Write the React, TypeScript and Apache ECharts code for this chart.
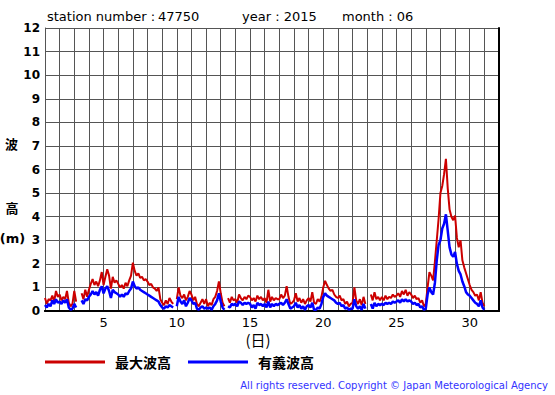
import React, { useEffect, useRef } from "react";
import * as echarts from "echarts";

// 3-hourly samples, day 1.0 .. day 31.0 (null = missing)
const maxWave: (number | null)[] = [
  0.55, 0.3, 0.5, 0.45, 0.65, 0.4, 0.85, 0.6,
  0.7, 0.45, 0.6, 0.5, 0.85, 0.35, 0.2, 0.3,
  0.85, 0.4, null, null, 0.75, 0.5, 0.9, 0.6,
  0.9, 1.15, 1.35, 1.1, 1.25, 1.05, 1.3, 1.65,
  1.1, 1.45, 1.77, 1.5, 0.95, 1.45, 1.2, 1.3,
  1.15, 1.0, 1.1, 0.95, 1.2, 1.05, 1.3, 1.5,
  2.05, 1.7, 1.5, 1.6, 1.4, 1.45, 1.3, 1.35,
  1.25, 1.1, 1.15, 1.0, 0.95, 0.85, 1.0, 0.5,
  0.35, 0.25, 0.45, 0.3, 0.55, 0.4, 0.3, null,
  0.5, 1.0, 0.65, 0.55, 0.7, 0.45, 0.6, 0.85,
  0.7, 0.45, 0.6, 0.3, 0.2, 0.35, 0.5, 0.3,
  0.5, 0.2, 0.35, 0.25, 0.5, 0.6, 0.85, 1.25,
  0.75, 0.35, 0.2, null, 0.55, 0.35, 0.6, 0.45,
  0.5, 0.35, 0.7, 0.55, 0.45, 0.6, 0.5, 0.65,
  0.6, 0.45, 0.55, 0.4, 0.65, 0.5, 0.6, 0.45,
  0.55, 0.35, 0.9, 0.4, 0.6, 0.45, 0.55, 0.5,
  0.5, 0.7, 0.55, 0.65, 1.05, 0.6, 0.3, 0.35,
  0.45, 0.75, 0.4, 0.55, 0.35, 0.5, 0.3, 0.45,
  0.55, 0.4, 0.8, 0.35, 0.3, 0.5, 0.4, 0.6,
  1.0, 1.28, 1.1, 0.95, 0.85, 0.9, 0.7, 0.6,
  0.55, 0.65, 0.45, 0.5, 0.3, 0.4, 0.2, 0.3,
  0.35, 1.0, 0.45, 0.3, 0.5, 0.25, 0.6, 0.3,
  null, null, 0.7, 0.45, 0.8, 0.5, 0.6, 0.45,
  0.6, 0.45, 0.65, 0.5, 0.6, 0.55, 0.7, 0.6,
  0.65, 0.75, 0.6, 0.85, 0.7, 0.9, 0.65, 0.8,
  0.7, 0.55, 0.65, 0.5, 0.55, 0.35, 0.45, 0.2,
  0.3, 1.0, 1.65, 1.5, 1.3, 2.1, 3.0, 3.9,
  5.0, 5.3, 5.8, 6.45, 5.2, 4.3, 4.0, 3.85,
  4.05, 3.1, 2.7, 3.0, 2.15, 1.85, 1.6, 1.35,
  1.1, 0.9, 0.8, 0.65, 0.7, 0.45, 0.8, 0.35,
  0.2,
];

const sigWave: (number | null)[] = [
  0.25, 0.15, 0.3, 0.2, 0.45, 0.3, 0.5, 0.35,
  0.4, 0.3, 0.45, 0.35, 0.5, 0.15, 0.05, 0.1,
  0.3, 0.15, null, null, 0.45, 0.3, 0.5, 0.45,
  0.6, 0.7, 0.85, 0.7, 0.8, 0.65, 0.9, 1.05,
  0.75, 0.95, 1.05, 0.85, 0.55, 0.9, 0.8, 0.75,
  0.7, 0.6, 0.7, 0.6, 0.75, 0.7, 0.85, 0.95,
  1.25, 1.05, 0.95, 1.0, 0.9, 0.85, 0.8, 0.75,
  0.7, 0.65, 0.6, 0.55, 0.5, 0.45, 0.4, 0.25,
  0.15, 0.1, 0.2, 0.15, 0.25, 0.2, 0.15, null,
  0.2, 0.6, 0.4, 0.3, 0.45, 0.2, 0.35, 0.55,
  0.45, 0.3, 0.35, 0.1, 0.05, 0.15, 0.2, 0.1,
  0.15, 0.1, 0.15, 0.05, 0.2, 0.3, 0.45, 0.75,
  0.4, 0.15, 0.05, null, 0.2, 0.15, 0.3, 0.25,
  0.3, 0.2, 0.4, 0.35, 0.25, 0.35, 0.3, 0.35,
  0.3, 0.15, 0.25, 0.1, 0.35, 0.25, 0.3, 0.2,
  0.3, 0.15, 0.4, 0.15, 0.3, 0.2, 0.3, 0.25,
  0.3, 0.35, 0.25, 0.35, 0.5, 0.3, 0.1, 0.15,
  0.2, 0.35, 0.15, 0.25, 0.1, 0.2, 0.05, 0.2,
  0.25, 0.15, 0.35, 0.05, 0.05, 0.15, 0.1, 0.3,
  0.6, 0.75, 0.65, 0.6, 0.55, 0.5, 0.45, 0.35,
  0.3, 0.35, 0.2, 0.25, 0.1, 0.15, 0.05, 0.1,
  0.1, 0.5, 0.2, 0.1, 0.2, 0.05, 0.3, 0.1,
  null, null, 0.3, 0.1, 0.35, 0.2, 0.3, 0.25,
  0.3, 0.25, 0.35, 0.3, 0.35, 0.3, 0.4, 0.35,
  0.4, 0.45, 0.35, 0.5, 0.4, 0.5, 0.4, 0.45,
  0.4, 0.3, 0.35, 0.25, 0.3, 0.15, 0.2, 0.05,
  0.1, 0.7, 1.0, 0.8, 0.7, 1.2, 2.15, 2.8,
  3.0, 3.5, 3.7, 4.1, 3.4, 2.7, 2.4, 2.3,
  2.5, 2.0, 1.7, 1.55, 1.25, 1.05, 0.8, 0.7,
  0.65, 0.55, 0.45, 0.35, 0.3, 0.2, 0.45, 0.15,
  0.05,
];

const times: number[] = maxWave.map((_, i) => 1 + i / 8);
const xLabelDays = [5, 10, 15, 20, 25, 30];
const seriesNames = ["最大波高", "有義波高"];
const titleParts = ["station number :", "47750", "year : 2015", "month : 06"];

const toPairs = (vals: (number | null)[]) =>
  vals.map((v, i) => [times[i], v === null ? "-" : v]);

export default function App() {
  const ref = useRef<HTMLDivElement>(null);
  useEffect(() => {
    if (!ref.current) return;
    const chart = echarts.init(ref.current, null, { renderer: "svg" });
    const sans = "'DejaVu Sans', sans-serif";
    const cjk = "'Noto Sans CJK JP', sans-serif";
    const titleX = [47, 158, 242, 342];
    chart.setOption({
      animation: false,
      backgroundColor: "#ffffff",
      grid: { left: 45, right: 56, top: 28, bottom: 84, containLabel: false },
      legend: {
        left: 45,
        top: 355,
        padding: 0,
        icon: "rect",
        itemWidth: 60,
        itemHeight: 3,
        itemGap: 17,
        data: seriesNames,
        textStyle: {
          fontFamily: cjk,
          fontSize: 14,
          fontWeight: "bold",
          color: "#000",
          padding: [0, 0, 0, 5],
        },
      },
      xAxis: [
        {
          type: "value",
          min: 1,
          max: 32,
          interval: 1,
          position: "bottom",
          axisLine: { show: true, lineStyle: { color: "#000", width: 2 } },
          axisTick: { show: false },
          splitLine: { show: true, lineStyle: { color: "#555", width: 1 } },
          axisLabel: {
            show: true,
            margin: 5,
            fontFamily: sans,
            fontSize: 13,
            lineHeight: 13,
            color: "#000",
            formatter: (v: number) => (xLabelDays.includes(v) ? String(v) : ""),
          },
        },
        {
          type: "value",
          min: 1,
          max: 32,
          interval: 1,
          position: "top",
          axisLine: { show: true, lineStyle: { color: "#000", width: 2 } },
          axisTick: { show: false },
          splitLine: { show: false },
          axisLabel: { show: false },
        },
      ],
      yAxis: [
        {
          type: "value",
          min: 0,
          max: 12,
          interval: 1,
          position: "left",
          axisLine: { show: true, lineStyle: { color: "#555", width: 1 } },
          axisTick: { show: false },
          splitLine: { show: true, lineStyle: { color: "#555", width: 1 } },
          axisLabel: {
            margin: 5,
            fontFamily: sans,
            fontSize: 12,
            fontWeight: "bold",
            color: "#000",
          },
        },
        {
          type: "value",
          min: 0,
          max: 12,
          interval: 1,
          position: "right",
          axisLine: { show: true, lineStyle: { color: "#000", width: 2 } },
          axisTick: { show: false },
          splitLine: { show: false },
          axisLabel: { show: false },
        },
      ],
      series: [
        {
          name: seriesNames[0],
          type: "line",
          data: toPairs(maxWave),
          showSymbol: false,
          connectNulls: false,
          color: "#cc0000",
          lineStyle: { color: "#cc0000", width: 2 },
          z: 3,
        },
        {
          name: seriesNames[1],
          type: "line",
          data: toPairs(sigWave),
          showSymbol: false,
          connectNulls: false,
          color: "#0000ff",
          lineStyle: { color: "#0000ff", width: 2.5 },
          z: 4,
        },
      ],
      graphic: [
        ...titleParts.map((t, i) => ({
          type: "text",
          left: titleX[i],
          top: 10,
          style: { text: t, fontFamily: sans, fontSize: 13, fill: "#000" },
        })),
        {
          type: "text",
          x: 11.5,
          y: 143.5,
          style: { text: "波", fontFamily: cjk, fontSize: 13, fontWeight: "bold", fill: "#000", align: "center", verticalAlign: "middle" },
        },
        {
          type: "text",
          x: 12,
          y: 207.5,
          style: { text: "高", fontFamily: cjk, fontSize: 13, fontWeight: "bold", fill: "#000", align: "center", verticalAlign: "middle" },
        },
        {
          type: "text",
          x: 12.5,
          y: 238.5,
          style: { text: "(m)", fontFamily: sans, fontSize: 13, fontWeight: "bold", fill: "#000", align: "center", verticalAlign: "middle" },
        },
        {
          type: "text",
          x: 258,
          y: 339,
          style: { text: "(日)", fontFamily: cjk, fontSize: 15, lineHeight: 15, fill: "#000", align: "center", verticalAlign: "middle" },
        },
        {
          type: "text",
          x: 548,
          y: 385,
          style: {
            text: "All rights reserved. Copyright © Japan Meteorological Agency",
            fontFamily: sans,
            fontSize: 10,
            fill: "#3333ff",
            align: "right",
            verticalAlign: "middle",
          },
        },
      ],
    });
    return () => chart.dispose();
  }, []);
  return (
    <div
      ref={ref}
      style={{ position: "fixed", left: 0, top: 0, width: 555, height: 395, background: "#fff" }}
    />
  );
}
